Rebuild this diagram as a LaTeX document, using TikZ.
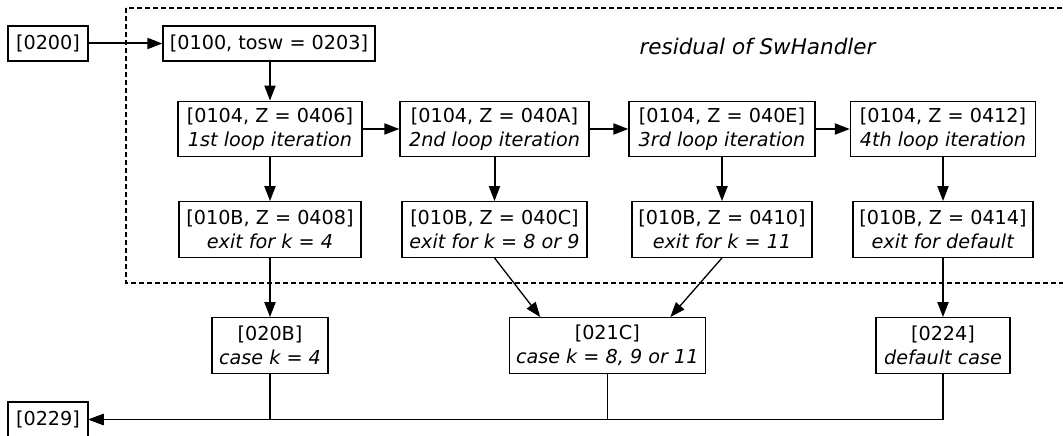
\documentclass[tikz,border=0pt]{standalone}
\usepackage{fontspec}
\setmainfont{DejaVu Sans}
\usetikzlibrary{arrows.meta}
\tikzset{
  box/.style={draw, line width=1.3pt, inner sep=0pt, align=center, minimum height=35pt, font=\fontsize{19.2}{24.5}\selectfont},
  box2/.style={box, minimum height=55.5pt},
  flow/.style={line width=2pt, -{Triangle[length=15pt,width=11pt]}},
  merge/.style={line width=1.3pt, -{Triangle[length=15pt,width=11pt]}},
  region/.style={draw, line width=1.4pt, dash pattern=on 5pt off 3pt},
  lbl/.style={font=\fontsize{21.5}{24}\selectfont\itshape}
}
\begin{document}
\begin{tikzpicture}[x=1pt,y=-1pt]
\path[use as bounding box] (0,0) rectangle (1063,436);
\clip (0,0) rectangle (1063,436);
\fill[white] (0,0) rectangle (1063,436);
\draw[region] (126,8) rectangle (1075,283);
\node[lbl] (res) at (757.5,46) {residual of SwHandler};

\node[box, minimum width=80pt] (n0200) at (48,43.5) {[0200]};
\node[box, minimum width=212pt] (n0100) at (269,43.5) {[0100, tosw = 0203]};

\node[box2, minimum width=184pt] (it1) at (270,129) {[0104, Z = 0406]\\\textit{1st loop iteration}};
\node[box2, minimum width=189pt] (it2) at (494.5,129) {[0104, Z = 040A]\\\textit{2nd loop iteration}};
\node[box2, minimum width=186pt] (it3) at (722,129) {[0104, Z = 040E]\\\textit{3rd loop iteration}};
\node[box2, minimum width=185pt] (it4) at (943,129) {[0104, Z = 0412]\\\textit{4th loop iteration}};

\node[box2, minimum width=182pt] (ex1) at (270,229.5) {[010B, Z = 0408]\\\textit{exit for k = 4}};
\node[box2, minimum width=185pt] (ex2) at (494.5,229.5) {[010B, Z = 040C]\\\textit{exit for k = 8 or 9}};
\node[box2, minimum width=180pt] (ex3) at (722,229.5) {[010B, Z = 0410]\\\textit{exit for k = 11}};
\node[box2, minimum width=180pt] (ex4) at (943,229.5) {[010B, Z = 0414]\\\textit{exit for default}};

\node[box2, minimum width=116pt] (c1) at (270,345.5) {[020B]\\\textit{case k = 4}};
\node[box2, minimum width=196pt] (c2) at (607.3,345.5) {[021C]\\\textit{case k = 8, 9 or 11}};
\node[box2, minimum width=134pt] (c3) at (943,345.5) {[0224]\\\textit{default case}};

\node[box, minimum width=80pt] (n0229) at (48,419.5) {[0229]};

\draw[flow] (n0200) -- (n0100);
\draw[flow] (n0100.south -| it1) -- (it1);
\draw[flow] (it1) -- (it2);
\draw[flow] (it2) -- (it3);
\draw[flow] (it3) -- (it4);
\draw[flow] (it1) -- (ex1);
\draw[flow] (it2) -- (ex2);
\draw[flow] (it3) -- (ex3);
\draw[flow] (it4) -- (ex4);
\draw[flow] (ex1) -- (c1);
\draw[merge] (ex2.south) -- ([xshift=-67pt]c2.north);
\draw[merge] (ex3.south) -- ([xshift=63pt]c2.north);
\draw[flow] (ex4) -- (c3);

\draw[merge] (c3.south) |- (n0229.east);
\draw[merge] (c2.south) |- (n0229.east);
\draw[merge] (c1.south) |- (n0229.east);
\end{tikzpicture}
\end{document}
